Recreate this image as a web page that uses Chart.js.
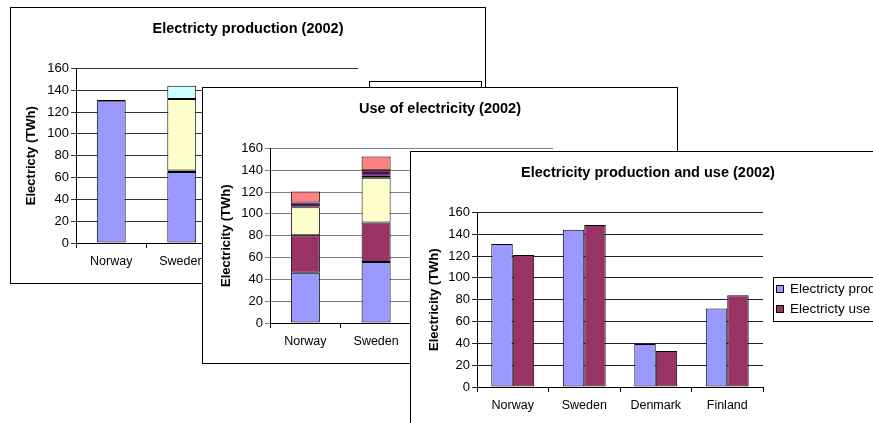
<!DOCTYPE html>
<html>
<head>
<meta charset="utf-8">
<script src="https://cdn.jsdelivr.net/npm/chart.js@4.4.1/dist/chart.umd.min.js"></script>
<style>
  body { margin: 0; width: 873px; height: 423px; overflow: hidden; background: #fff; position: relative; }
  .panel { position: absolute; width: 474px; height: 275px; border: 1px solid #000; background: #fff; }
  .panel canvas { display: block; }
</style>
</head>
<body>
<div class="panel" style="left:10px;top:7px"><canvas id="prodChart" width="474" height="275"></canvas></div>
<div class="panel" style="left:202px;top:87px"><canvas id="useChart" width="474" height="275"></canvas></div>
<div class="panel" style="left:410px;top:151px"><canvas id="bothChart" width="474" height="275"></canvas></div>
<script>
const countries = ['Norway', 'Sweden', 'Denmark', 'Finland'];
const yMin = 0, yMax = 160, yStep = 20;

// production by source, TWh
const prodHydro   = [130, 65, 0, 11];
const prodThermal = [1, 1.5, 34, 39];
const prodNuclear = [0, 65.5, 0, 22];
const prodOther   = [0, 12, 5.5, 0];

// use by sector, TWh
const useIndustry   = [46, 56, 10, 44];
const useHouseholds = [34.5, 36, 10, 20];
const useServices   = [25.5, 41, 9, 14];
const useTransport  = [1, 2, 0.5, 1];
const useEnergy     = [3.5, 5, 1, 2];
const useLosses     = [10, 12.5, 2.5, 3];

// totals
const totalProd = [131, 144, 39.5, 72];
const totalUse  = [121, 148.5, 33, 84];

const FONT = '"Liberation Sans", Arial, sans-serif';
const C = {
    blue: '#9999FF', plum: '#993366', yellow: '#FFFFCC',
    cyan: '#CCFFFF', purple: '#660066', coral: '#FF8080'
};

// boxed legend like the excel one
const legendBox = {
    id: 'legendBox',
    afterDraw(chart, args, opts) {
        const ctx = chart.ctx;
        const sets = chart.data.datasets;
        const h = sets.length * opts.rowH + 4;
        ctx.save();
        ctx.strokeStyle = '#000';
        ctx.lineWidth = 1;
        ctx.fillStyle = '#fff';
        ctx.fillRect(opts.x + 0.5, opts.y + 0.5, opts.w, h);
        ctx.strokeRect(opts.x + 0.5, opts.y + 0.5, opts.w, h);
        ctx.font = '13.5px ' + FONT;
        ctx.textBaseline = 'middle';
        sets.forEach((ds, i) => {
            const cy = Math.round(opts.y + 2 + opts.rowH * i + opts.rowH / 2);
            ctx.fillStyle = ds.backgroundColor;
            ctx.fillRect(opts.x + 3.5, cy - 3.5, 7, 7);
            ctx.strokeRect(opts.x + 3.5, cy - 3.5, 7, 7);
            ctx.fillStyle = '#000';
            ctx.fillText(ds.label, opts.x + 17, cy);
        });
        ctx.restore();
    }
};

function makeOptions(cfg) {
    return {
        responsive: false,
        animation: false,
        layout: { padding: 0 },
        plugins: {
            legend: { display: false },
            tooltip: { enabled: false },
            title: {
                display: true,
                text: cfg.title,
                color: '#000',
                font: { family: FONT, size: 14.5, weight: 'bold' },
                padding: { top: 12, bottom: 31 }
            },
            legendBox: cfg.legend
        },
        scales: {
            x: {
                stacked: cfg.stacked,
                offset: true,
                grid: { display: true, offset: true, drawOnChartArea: false, drawTicks: true, tickLength: 5, color: '#000' },
                border: { display: true, color: '#000' },
                ticks: { color: '#000', padding: 6, maxRotation: 0, font: { family: FONT, size: 12.5 } },
                afterFit: s => { s.height = 40; }
            },
            y: {
                stacked: cfg.stacked,
                min: yMin, max: yMax,
                grid: { color: cfg.gridColor, drawTicks: true, tickLength: 5 },
                border: { display: true, color: '#000' },
                ticks: { stepSize: yStep, color: '#000', padding: 2, font: { family: FONT, size: 13 } },
                title: {
                    display: true, text: cfg.yTitle, color: '#000',
                    font: { family: FONT, size: 13, weight: 'bold' },
                    padding: { top: cfg.yTitlePad, bottom: 0 }
                },
                afterFit: s => { s.width = cfg.left; }
            },
            // empty axis that keeps the room for the legend on the right
            y2: {
                position: 'right',
                grid: { display: false },
                ticks: { display: false },
                border: { display: false },
                afterFit: s => { s.width = cfg.right; }
            }
        }
    };
}

function bars(label, data, color, pct) {
    return {
        label: label, data: data,
        backgroundColor: color, borderColor: '#000', borderWidth: 1, borderSkipped: false,
        barPercentage: pct.bar, categoryPercentage: pct.cat
    };
}

// 1. Electricity production, stacked by source
const stackPct = { bar: 0.41, cat: 1 };
new Chart(document.getElementById('prodChart'), {
    type: 'bar',
    data: {
        labels: countries,
        datasets: [
            bars('Hydro power', prodHydro, C.blue, stackPct),
            bars('Thermal power', prodThermal, C.plum, stackPct),
            bars('Nuclear power', prodNuclear, C.yellow, stackPct),
            bars('Other', prodOther, C.cyan, stackPct)
        ]
    },
    options: makeOptions({
        stacked: true, title: 'Electricty production (2002)', yTitle: 'Electricty (TWh)',
        gridColor: '#333', left: 65, right: 127, yTitlePad: 13,
        legend: { x: 358, y: 73, w: 112, rowH: 20 }
    }),
    plugins: [legendBox]
});

// 2. Use of electricity, stacked by sector
new Chart(document.getElementById('useChart'), {
    type: 'bar',
    data: {
        labels: countries,
        datasets: [
            bars('Industry', useIndustry, C.blue, stackPct),
            bars('Households', useHouseholds, C.plum, stackPct),
            bars('Services', useServices, C.yellow, stackPct),
            bars('Transport', useTransport, C.cyan, stackPct),
            bars('Energy sector', useEnergy, C.purple, stackPct),
            bars('Losses', useLosses, C.coral, stackPct)
        ]
    },
    options: makeOptions({
        stacked: true, title: 'Use of electricity (2002)', yTitle: 'Electricity (TWh)',
        gridColor: '#808080', left: 67, right: 124, yTitlePad: 16,
        legend: { x: 360, y: 70, w: 112, rowH: 20 }
    }),
    plugins: [legendBox]
});

// 3. Production and use side by side
const groupPct = { bar: 1, cat: 0.6 };
new Chart(document.getElementById('bothChart'), {
    type: 'bar',
    data: {
        labels: countries,
        datasets: [
            bars('Electricty production', totalProd, C.blue, groupPct),
            bars('Electricty use', totalUse, C.plum, groupPct)
        ]
    },
    options: makeOptions({
        stacked: false, title: 'Electricity production and use (2002)', yTitle: 'Electricity (TWh)',
        gridColor: '#222', left: 66, right: 122, yTitlePad: 16,
        legend: { x: 362, y: 125, w: 140, rowH: 20 }
    }),
    plugins: [legendBox]
});
</script>
</body>
</html>
